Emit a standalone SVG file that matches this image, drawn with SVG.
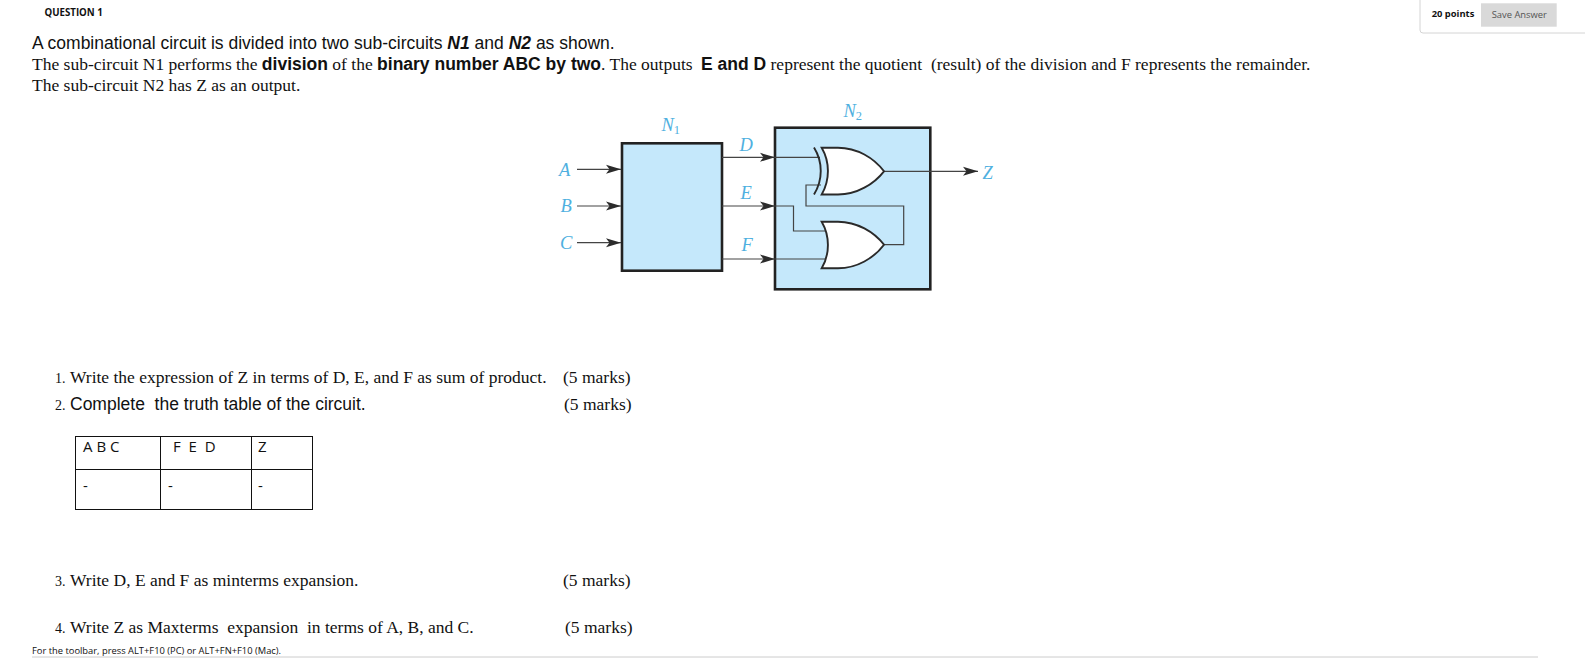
<svg xmlns="http://www.w3.org/2000/svg" width="1591" height="658" viewBox="0 0 1591 658">
<defs>
<marker id="arr" markerUnits="userSpaceOnUse" markerWidth="16" markerHeight="10" refX="15" refY="5" orient="auto"><path d="M0,0.5 L15,5 L0,9.5 L3.5,5 Z" fill="#2b2b2b"/></marker>
</defs>
<style>
text{fill:#111}
.s{font-family:"Liberation Sans",Arial,sans-serif}
.r{font-family:"Liberation Serif","Times New Roman",serif}
.o{font-family:"Open Sans","Noto Sans",sans-serif}
.b{font-weight:bold}
.l{font-family:"Liberation Serif",serif;font-style:italic;font-size:18.5px;fill:#4fb0e0}
.box{fill:#c5e8fb;stroke:#222;stroke-width:2.6}
.gate{fill:#fff;stroke:#2a2a2a;stroke-width:1.9}
.w{fill:none;stroke:#444;stroke-width:1.2}
.arrow{fill:none;stroke:#444;stroke-width:1.2;marker-end:url(#arr)}
.cell{fill:none;stroke:#111;stroke-width:1}
</style>
<rect width="1591" height="658" fill="#fff"/>
<text class="o b" x="44.5" y="15.5" font-size="9.7">QUESTION 1</text>
<path d="M1420,0 V30 Q1420,33 1423,33 H1585" fill="none" stroke="#d4d4d4" stroke-width="1"/>
<text class="o b" x="1431.7" y="17" font-size="9.4">20 points</text>
<rect x="1481" y="3.3" width="75.7" height="23.4" fill="#d9d9d9"/>
<text class="o" x="1491.7" y="18" font-size="9.4" style="fill:#555">Save Answer</text>

<text class="s" x="32" y="48.5" font-size="17.5">A combinational circuit is divided into two sub-circuits <tspan class="b" font-style="italic">N1</tspan> and <tspan class="b" font-style="italic">N2</tspan> as shown.</text>
<text class="r" x="32" y="69.5" font-size="17.5">The sub-circuit N1 performs the <tspan class="s b">division</tspan> of the <tspan class="s b">binary number ABC by two</tspan>. The outputs <tspan x="701" class="s b">E and D</tspan> represent the quotient&#160; (result) of the division and F represents the remainder.</text>
<text class="r" x="32" y="90.5" font-size="17.5">The sub-circuit N2 has Z as an output.</text>

<g id="N1"><rect class="box" x="622" y="143.3" width="100" height="127.4"/><text class="l" x="661.5" y="131">N<tspan font-size="12.5" dy="3" font-style="normal">1</tspan></text></g>
<g id="N2"><rect class="box" x="775" y="127.7" width="155.3" height="161.6"/><text class="l" x="843.5" y="117">N<tspan font-size="12.5" dy="3" font-style="normal">2</tspan></text></g>
<g id="connectors">
<path class="arrow" d="M577,169.3H621"/>
<path class="arrow" d="M577,206H621"/>
<path class="arrow" d="M577,242.7H621"/>
<path class="arrow" d="M722,157.3H775"/>
<path class="arrow" d="M722,206H775"/>
<path class="arrow" d="M722,259H775"/>
<path class="w" d="M775,157.3H820"/>
<path class="w" d="M775,206H793.5V231H825"/>
<path class="w" d="M775,259H825"/>
<path class="w" d="M884,244.7H903.7V206H806V185H821"/>
<path class="arrow" d="M884,171.3H978"/>
</g>
<g id="xor-gate"><path class="gate" d="M821.7,147.7 H838 C857,147.7 874,158 884,171.3 C874,184 857,194.5 838,194.5 H821.7 C830,180 830,162 821.7,147.7 Z"/><path class="gate" style="fill:none" d="M814,147.5 C823,162 823,180 814,194.5"/></g>
<g id="or-gate"><path class="gate" d="M821.7,221.7 H838 C857,221.7 874,232 884,244.7 C874,258 857,268.3 838,268.3 H821.7 C830,254 830,236 821.7,221.7 Z"/></g>
<text class="l" x="739.5" y="150.5">D</text>
<text class="l" x="740.5" y="198.5">E</text>
<text class="l" x="741.5" y="250.5">F</text>
<text class="l" x="559" y="175.5">A</text>
<text class="l" x="560.5" y="211.5">B</text>
<text class="l" x="560" y="248.5">C</text>
<text class="l" x="982.5" y="179">Z</text>

<text class="r" x="55" y="383" font-size="17.5"><tspan font-size="14">1.</tspan><tspan x="70">Write the expression of Z in terms of D, E, and F as sum of product.</tspan></text>
<text class="r" x="563" y="383" font-size="17.5">(5 marks)</text>
<text x="55" y="409.5" font-size="17.5" class="s"><tspan class="r" font-size="14">2.</tspan><tspan x="70">Complete&#160; the truth table of the circuit.</tspan></text>
<text class="r" x="564" y="409.5" font-size="17.5">(5 marks)</text>

<g id="truth-table">
<rect class="cell" x="75.5" y="436.5" width="237" height="73"/>
<path class="cell" d="M75.5,469.5H312.5M160.5,436.5V509.5M251.5,436.5V509.5"/>
<text class="o" x="83" y="452" font-size="15">A B C</text>
<text class="o" x="173" y="452" font-size="15">F&#160; E&#160; D</text>
<text class="o" x="258" y="452" font-size="15">Z</text>
<text class="o" x="83" y="491" font-size="15">-</text>
<text class="o" x="168" y="491" font-size="15">-</text>
<text class="o" x="258" y="491" font-size="15">-</text>
</g>

<text class="r" x="55" y="585.5" font-size="17.5"><tspan font-size="14">3.</tspan><tspan x="70">Write D, E and F as minterms expansion.</tspan></text>
<text class="r" x="563" y="585.5" font-size="17.5">(5 marks)</text>
<text class="r" x="55" y="632.5" font-size="17.5"><tspan font-size="14">4.</tspan><tspan x="70">Write Z as Maxterms&#160; expansion&#160; in terms of A, B, and C.</tspan></text>
<text class="r" x="565" y="632.5" font-size="17.5">(5 marks)</text>
<text class="o" x="32" y="653.5" font-size="9.35">For the toolbar, press ALT+F10 (PC) or ALT+FN+F10 (Mac).</text>
<path d="M32,657H1538" stroke="#ccc" stroke-width="1"/>
</svg>
